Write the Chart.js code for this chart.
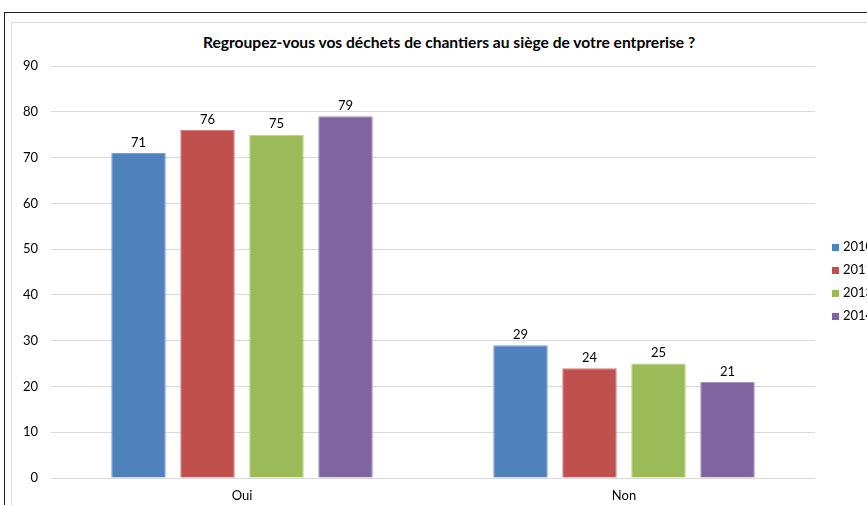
<!DOCTYPE html>
<html>
<head>
<meta charset="utf-8">
<script src="https://cdn.jsdelivr.net/npm/chart.js@4"></script>
<style>
  html, body { margin: 0; padding: 0; background: #fff; overflow: hidden; width: 867px; height: 505px; }
  #outer { position: absolute; left: 4px; top: 12px; width: 900px; height: 520px; border: 1.5px solid #222; }
  #inner { position: absolute; left: 11px; top: 22px; width: 900px; height: 520px; border: 1px solid #d9d9d9; }
  #wrap { position: absolute; left: 11px; top: 22px; width: 900px; height: 490px; }
  #title { position: absolute; left: 149px; top: 33px; width: 600px; text-align: center; white-space: nowrap;
    font: bold 15.6px Lato, sans-serif; line-height: 19px; color: #000; }
  #legend { position: absolute; left: 832px; top: 238px; font: 13px Lato, sans-serif; color: #000; }
  #legend div { height: 23px; line-height: 16px; white-space: nowrap; }
  #legend span { display: inline-block; width: 7px; height: 7px; margin-right: 4px; }
</style>
</head>
<body>
<div id="outer"></div>
<div id="inner"></div>
<div id="title">Regroupez-vous vos déchets de chantiers au siège de votre entprerise ?</div>
<div id="wrap"><canvas id="chart" width="900" height="490"></canvas></div>
<div id="legend"></div>
<script>
// Data
const categories = ['Oui', 'Non']
const years = ['2010', '2011', '2013', '2014']
const values2010 = [71, 29]
const values2011 = [76, 24]
const values2013 = [75, 25]
const values2014 = [79, 21]
const colors = ['#4f81bd', '#c0504d', '#9bbb59', '#8064a2']
const edges = ['#7a9fd0', '#d47f7c', '#b8d08a', '#a08cbf']

const series = [values2010, values2011, values2013, values2014]

// labels over each bar
const valueLabels = {
  id: 'valueLabels',
  afterDatasetsDraw (chart) {
    const ctx = chart.ctx
    ctx.save()
    ctx.font = '13px Lato, sans-serif'
    ctx.fillStyle = '#000'
    ctx.textAlign = 'center'
    ctx.textBaseline = 'bottom'
    chart.data.datasets.forEach((ds, i) => {
      chart.getDatasetMeta(i).data.forEach((bar, j) => {
        ctx.fillText(ds.data[j], bar.x, bar.y - 4)
      })
    })
    ctx.restore()
  }
}

new Chart(document.getElementById('chart'), {
  type: 'bar',
  data: {
    labels: categories,
    datasets: years.map((y, i) => ({
      label: y,
      data: series[i],
      backgroundColor: colors[i],
      borderColor: edges[i],
      borderWidth: 1,
      categoryPercentage: 0.7225,
      barPercentage: 0.79
    }))
  },
  options: {
    responsive: false,
    animation: false,
    layout: { padding: { top: 44, right: 96, left: 0, bottom: 0 } },
    plugins: {
      legend: { display: false },
      tooltip: { enabled: false }
    },
    scales: {
      x: {
        grid: { display: false, drawTicks: false },
        border: { display: false },
        ticks: { color: '#000', font: { family: 'Lato', size: 13 }, padding: 10 },
        afterFit: (s) => { s.height = 34 }
      },
      y: {
        min: 0,
        max: 90,
        ticks: { stepSize: 10, color: '#000', font: { family: 'Lato', size: 13 }, padding: 13 },
        grid: { color: '#d9d9d9', drawTicks: false },
        border: { display: false },
        afterFit: (s) => { s.width = 40 }
      }
    }
  },
  plugins: [valueLabels]
})

const legendEl = document.getElementById('legend')
years.forEach((y, i) => {
  const row = document.createElement('div')
  row.innerHTML = `<span style="background:${colors[i]}"></span>${y}`
  legendEl.appendChild(row)
})
</script>
</body>
</html>
